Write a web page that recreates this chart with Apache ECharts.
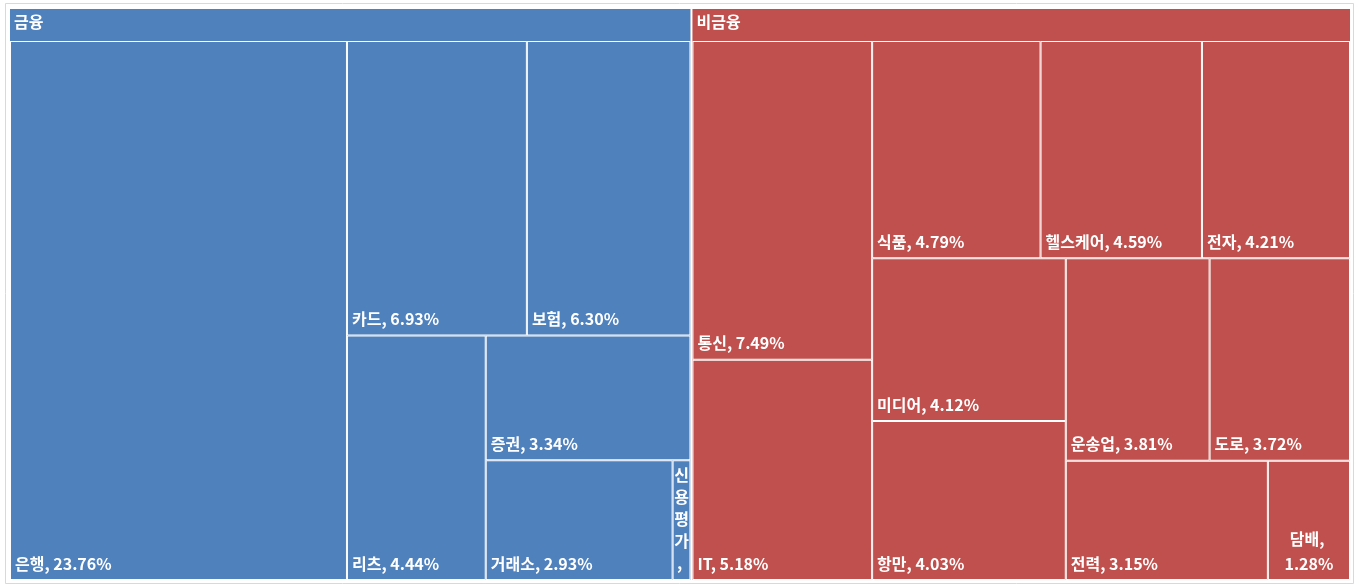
<!DOCTYPE html>
<html>
<head>
<meta charset="utf-8">
<title>Treemap</title>
<script src="https://cdn.jsdelivr.net/npm/echarts@6/dist/echarts.min.js"></script>
<style>
  html, body { margin: 0; padding: 0; background: #ffffff; }
  #chart { width: 1359px; height: 585px; }
</style>
</head>
<body>
<div id="chart"></div>
<script>
// ---- data ----
const groupNames = ['금융', '비금융'];
const finNames = ['은행', '카드', '보험', '리츠', '증권', '거래소', '신용평가'];
const finValues = [23.76, 6.93, 6.30, 4.44, 3.34, 2.93, 0.28];
const nonFinNames = ['통신', 'IT', '식품', '헬스케어', '전자', '미디어', '항만', '운송업', '도로', '전력', '담배'];
const nonFinValues = [7.49, 5.18, 4.79, 4.59, 4.21, 4.12, 4.03, 3.81, 3.72, 3.15, 1.28];

// ---- styles ----
const groupColors = ['#4F81BD', '#C0504D'];
const FONT = '"Noto Sans CJK KR", "Noto Sans", sans-serif';

function leaves(names, values, color) {
  return names.map(function (n, i) {
    const item = { name: n, value: values[i], itemStyle: { color: color } };
    if (n === '신용평가') {
      item.label = { position: 'insideTop', align: 'center', padding: [3, 0, 0, 0], lineHeight: 22 };
    }
    if (n === '담배') {
      item.label = { align: 'center', position: 'insideBottom', padding: [0, 0, 3, 0] };
    }
    return item;
  });
}

const data = [
  { name: groupNames[0], itemStyle: { color: groupColors[0], borderColor: groupColors[0] },
    children: leaves(finNames, finValues, groupColors[0]) },
  { name: groupNames[1], itemStyle: { color: groupColors[1], borderColor: groupColors[1] },
    children: leaves(nonFinNames, nonFinValues, groupColors[1]) }
];

const chart = echarts.init(document.getElementById('chart'), null, { renderer: 'canvas' });
chart.setOption({
  backgroundColor: '#ffffff',
  animation: false,
  graphic: [{
    type: 'rect', silent: true, z: -10,
    shape: { x: 5.5, y: 3.5, width: 1348, height: 580 },
    style: { fill: '#ffffff', stroke: '#d9d9d9', lineWidth: 1 }
  }],
  series: [{
    type: 'treemap',
    left: 10, top: 9, width: 1340, height: 571,
    roam: false,
    nodeClick: false,
    breadcrumb: { show: false },
    squareRatio: 0.9608,
    sort: 'desc',
    visibleMin: 0,
    label: {
      show: true,
      position: 'insideBottomLeft',
      color: '#ffffff',
      fontFamily: FONT,
      fontSize: 16,
      fontWeight: 'bold',
      lineHeight: 25,
      padding: [0, 3, 3, 4],
      overflow: 'break',
      formatter: function (p) { return p.name + ', ' + p.value.toFixed(2) + '%'; }
    },
    upperLabel: { show: false },
    itemStyle: { borderWidth: 0, gapWidth: 0, borderColor: '#ffffff' },
    levels: [
      { itemStyle: { borderWidth: 0, gapWidth: 2, borderColor: '#ffffff' } },
      {
        itemStyle: { borderWidth: 0, gapWidth: 0 },
        upperLabel: {
          show: true, height: 32,
          position: 'insideLeft',
          distance: 0,
          offset: [0, -3],
          color: '#ffffff', fontFamily: FONT, fontSize: 16, fontWeight: 'bold',
          padding: [0, 0, 0, 4],
          formatter: '{b}'
        }
      },
      { itemStyle: { borderWidth: 1, gapWidth: 0, borderColor: '#ffffff' } }
    ],
    data: data
  }]
});
</script>
</body>
</html>
